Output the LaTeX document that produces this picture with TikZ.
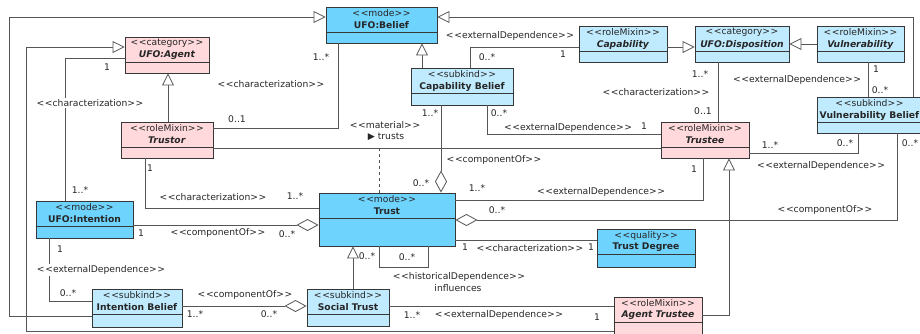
\documentclass[tikz,border=0pt]{standalone}
\usepackage{fontspec}
\setmainfont{DejaVu Sans}
\usetikzlibrary{arrows.meta,fit}

\definecolor{modeblue}{RGB}{110,211,253}
\definecolor{subblue}{RGB}{192,235,254}
\definecolor{rolepink}{RGB}{255,217,220}
\definecolor{umlline}{RGB}{85,85,85}
\definecolor{umlborder}{RGB}{55,55,55}

\newcommand{\stereo}[1]{<\kern.6pt<#1>\kern.6pt>}
% name, fill, corner, corner, stereotype, title
\newcommand{\umlclass}[6]{%
	\node[classbox,#2,fit={#3 #4}] (#1) {};
	\draw[umlborder,line width=.9pt] ([yshift=-26pt]#1.north west) -- ([yshift=-26pt]#1.north east);
	\node (#1-st) at ([yshift=-7pt]#1.north) {\stereo{#5}};
	\node (#1-nm) at ([yshift=-19pt]#1.north) {#6};
}

\begin{document}
\begin{tikzpicture}[x=1pt,y=-1pt,
	every node/.style={font=\fontsize{9.2}{11}\selectfont,text=black!85,inner sep=1pt},
	classbox/.style={draw=umlborder,line width=.9pt,inner sep=0pt},
	conn/.style={draw=umlline,line width=.8pt},
	gen/.style={conn,-{Triangle[length=12pt,width=12pt,fill=white]}},
	compend/.style={conn,-{Diamond[length=22pt,width=12pt,fill=white]}},
	onwhite/.style={fill=white,inner sep=1.5pt}]
	\useasboundingbox (0,0) rectangle (920,333);
	\clip (0,0) rectangle (920,333);
	\fill[white] (0,0) rectangle (920,333);

	\umlclass{belief}{fill=modeblue}{(326,7)}{(437,43)}{mode}{\textbf{UFO:Belief}}
	\umlclass{agent}{fill=rolepink}{(125,37)}{(209,73)}{category}{\textbf{\textit{UFO:Agent}}}
	\umlclass{trustor}{fill=rolepink}{(121,122)}{(213,158)}{roleMixin}{\textbf{\textit{Trustor}}}
	\umlclass{capbelief}{fill=subblue}{(411,68)}{(513,105)}{subkind}{\textbf{Capability Belief}}
	\umlclass{capability}{fill=subblue}{(579,26)}{(667,62)}{roleMixin}{\textbf{\textit{Capability}}}
	\umlclass{disposition}{fill=subblue}{(695,26)}{(789,62)}{category}{\textbf{\textit{UFO:Disposition}}}
	\umlclass{vulnerability}{fill=subblue}{(817,26)}{(904,62)}{roleMixin}{\textbf{\textit{Vulnerability}}}
	\umlclass{vulnbelief}{fill=subblue}{(817,97)}{(922,133)}{subkind}{\textbf{Vulnerability Belief}}
	\umlclass{trustee}{fill=rolepink}{(661,122)}{(749,158)}{roleMixin}{\textbf{\textit{Trustee}}}
	\umlclass{trust}{fill=modeblue}{(319,193)}{(455,246)}{mode}{\textbf{Trust}}
	\umlclass{intention}{fill=modeblue}{(36,201)}{(133,238)}{mode}{\textbf{UFO:Intention}}
	\umlclass{degree}{fill=modeblue}{(597,229)}{(695,267)}{quality}{\textbf{Trust Degree}}
	\umlclass{socialtrust}{fill=subblue}{(307,289)}{(389,326)}{subkind}{\textbf{Social Trust}}
	\umlclass{ibelief}{fill=subblue}{(92,289)}{(182,327)}{subkind}{\textbf{Intention Belief}}
	\umlclass{atrustee}{fill=rolepink}{(614,297)}{(702,345)}{roleMixin}{\textbf{\textit{Agent Trustee}}}

	\coordinate (mat) at (379,148);

	\draw[gen] (168,0 |- trustor.north) -- (168,0 |- agent.south);
	\draw[conn] (trustor.east |- 0,128) -| (338,0 |- belief.south);
	\draw[conn] (trustor.east |- 0,148) -- (trustee.west |- 0,148);
	\draw[conn,dashed] (mat) -- (379,0 |- trust.north);
	\draw[gen] (422,0 |- capbelief.north) -- (422,0 |- belief.south);
	\draw[conn] (470,0 |- capbelief.north) |- (capability.west |- 0,47);
	\draw[gen] (capability.east |- 0,47) -- (disposition.west |- 0,47);
	\draw[gen] (vulnerability.west |- 0,44) -- (disposition.east |- 0,44);
	\draw[conn] (487,0 |- capbelief.south) |- (trustee.west |- 0,134);
	\draw[compend] (441,0 |- capbelief.south) -- (441,0 |- trust.north);
	\draw[conn] (718,0 |- disposition.south) -- (718,0 |- trustee.north);
	\draw[conn] (868,0 |- vulnerability.south) -- (868,0 |- vulnbelief.north);
	\draw[gen] (913,0 |- vulnbelief.north) |- (belief.east |- 0,17);
	\draw[conn] (trustee.east |- 0,153) -| (858,0 |- vulnbelief.south);
	\draw[compend] (897,0 |- vulnbelief.south) |- (trust.east |- 0,220);
	\draw[conn] (trust.east |- 0,200) -| (703,0 |- trustee.south);
	\draw[gen] (atrustee.east |- 0,315) -| (729,0 |- trustee.south);
	\draw[conn] (trust.east |- 0,240) -- (degree.west |- 0,240);
	\draw[conn] (379,0 |- trust.south) -- (379,267) -- (428,267) -- (428,0 |- trust.south);
	\draw[gen] (353,0 |- socialtrust.north) -- (353,0 |- trust.south);
	\draw[conn] (socialtrust.east |- 0,306) -- (atrustee.west |- 0,306);
	\draw[compend] (ibelief.east |- 0,306) -- (socialtrust.west |- 0,306);
	\draw[compend] (intention.east |- 0,225) -- (trust.west |- 0,225);
	\draw[conn] (145,0 |- trustor.south) |- (trust.west |- 0,208);
	\draw[conn] (65,0 |- intention.north) |- (agent.west |- 0,58);
	\draw[conn] (49,0 |- intention.south) |- (ibelief.west |- 0,301);
	\draw[gen] (ibelief.west |- 0,316) -| (9,17) -- (belief.west |- 0,17);
	\draw[gen] (atrustee.west |- 0,331) -| (26,47) -- (agent.west |- 0,47);

	% stereotypes of the associations
	\node[onwhite] (s1) at (90,103) {\stereo{characterization}};
	\node[onwhite] (s2) at (101,270) {\stereo{externalDependence}};
	\node (s3) at (271,84) {\stereo{characterization}};
	\node (s4) at (510,36) {\stereo{externalDependence}};
	\node (s5) at (568,128) {\stereo{externalDependence}};
	\node (s6) at (385,125) {\stereo{material}};
	\node (s7) at (386,137) {▶ trusts};
	\node (s8) at (494,160) {\stereo{componentOf}};
	\node (s9) at (601,192) {\stereo{externalDependence}};
	\node (s10) at (530,248) {\stereo{characterization}};
	\node (s11) at (459,277) {\stereo{historicalDependence}};
	\node (s12) at (458,288) {influences};
	\node (s13) at (499,315) {\stereo{externalDependence}};
	\node (s14) at (213,197) {\stereo{characterization}};
	\node (s15) at (218,233) {\stereo{componentOf}};
	\node (s16) at (245,295) {\stereo{componentOf}};
	\node (s17) at (656,92) {\stereo{characterization}};
	\node (s18) at (797,80) {\stereo{externalDependence}};
	\node (s19) at (821,166) {\stereo{externalDependence}};
	\node (s20) at (825,210) {\stereo{componentOf}};

	% multiplicities
	\foreach \n/\x/\y/\t in {m1/107/67/1, m2/237/119/0..1, m3/321/57/1..*, m4/487/57/0..*,
		m5/563/54/1, m6/430/113/1..*, m7/499/113/0..*, m8/644/126/1, m9/421/183/0..*,
		m10/477/188/1..*, m11/497/210/0..*, m12/465/247/1, m13/591/247/1, m14/367/256/0..*,
		m15/407/257/0..*, m16/412/315/1..*, m17/597/317/1, m18/150/168/1, m19/80/190/1..*,
		m20/295/196/1..*, m21/141/233/1, m22/287/234/0..*, m23/60/249/1, m24/68/293/0..*,
		m25/195/314/1..*, m26/269/314/0..*, m27/700/74/1..*, m28/703/111/0..1, m29/876/69/1,
		m30/880/90/0..*, m31/770/145/1..*, m32/845/143/0..*, m33/910/143/0..*, m34/694/169/1}
		\node (\n) at (\x,\y) {\t};
\end{tikzpicture}
\end{document}
